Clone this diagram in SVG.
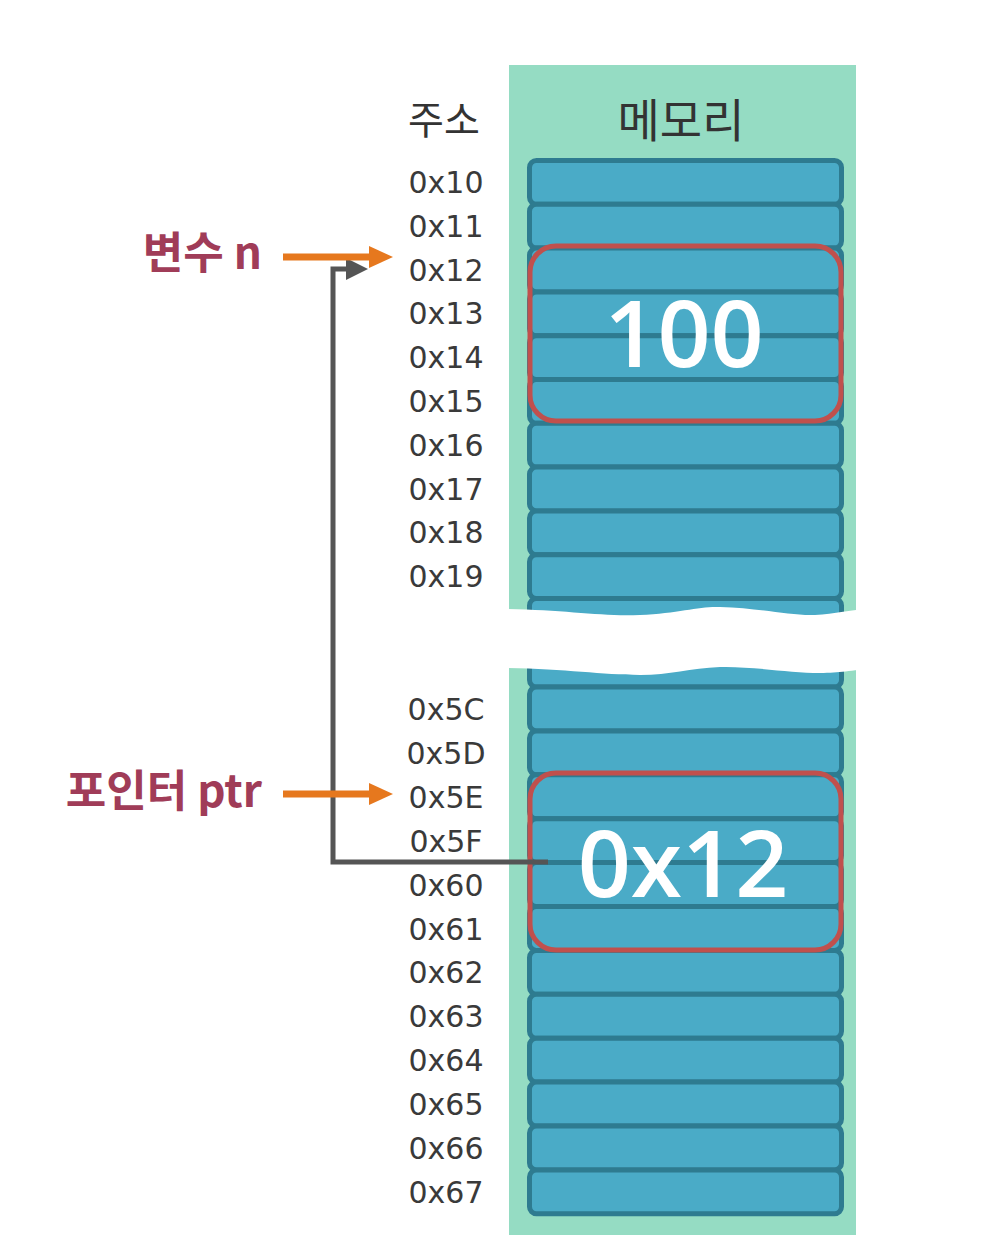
<svg xmlns="http://www.w3.org/2000/svg" width="986" height="1258" viewBox="0 0 986 1258">
<style>
.cell{fill:#4AABC7;stroke:#2E7B90;stroke-width:5}
.sel{fill:none;stroke:#C0504D;stroke-width:5}
.addr{font-family:"DejaVu Sans","Noto Sans",sans-serif;font-size:30px;fill:#3a3a3a;text-anchor:middle}
.head{font-family:"Noto Sans CJK KR","Noto Sans",sans-serif;fill:#333;text-anchor:middle}
.val{font-family:"Open Sans","Noto Sans",sans-serif;font-weight:600;font-size:93px;fill:#fff;text-anchor:middle}
.var{font-family:"Noto Sans CJK KR","Noto Sans",sans-serif;font-weight:bold;font-size:44px;fill:#A03C58;text-anchor:end}
.oarrow{stroke:#E6781E;stroke-width:7;fill:none;marker-end:url(#oh)}
.garrow{stroke:#555;stroke-width:5;fill:none;marker-end:url(#gh)}
</style>
<defs>
<marker id="oh" markerUnits="userSpaceOnUse" markerWidth="26" markerHeight="24" refX="6" refY="12" orient="auto"><path d="M0,1 L24,12 L0,23 Z" fill="#E6781E"/></marker>
<marker id="gh" markerUnits="userSpaceOnUse" markerWidth="24" markerHeight="24" refX="4" refY="12" orient="auto"><path d="M0,1 L22,12 L0,23 Z" fill="#555"/></marker>
</defs>
<rect width="986" height="1258" fill="#fff"/>
<g id="memory-panel">
<rect x="509" y="65" width="347" height="1170" fill="#95DCC3"/>
<text class="head" x="681" y="137" font-size="46">메모리</text>
</g>
<g id="address-header"><text class="head" x="444" y="134" font-size="39">주소</text></g>
<g id="cells-top">
<rect class="cell" x="529.5" y="160.5" width="312" height="43.8" rx="7"/>
<rect class="cell" x="529.5" y="204.3" width="312" height="43.8" rx="7"/>
<rect class="cell" x="529.5" y="248.1" width="312" height="43.8" rx="7"/>
<rect class="cell" x="529.5" y="291.9" width="312" height="43.8" rx="7"/>
<rect class="cell" x="529.5" y="335.7" width="312" height="43.8" rx="7"/>
<rect class="cell" x="529.5" y="379.5" width="312" height="43.8" rx="7"/>
<rect class="cell" x="529.5" y="423.3" width="312" height="43.8" rx="7"/>
<rect class="cell" x="529.5" y="467.1" width="312" height="43.8" rx="7"/>
<rect class="cell" x="529.5" y="510.9" width="312" height="43.8" rx="7"/>
<rect class="cell" x="529.5" y="554.7" width="312" height="43.8" rx="7"/>
<rect class="cell" x="529.5" y="598.5" width="312" height="43.8" rx="7"/>
</g>
<g id="cells-bottom">
<rect class="cell" x="529.5" y="643.1" width="312" height="43.9" rx="7"/>
<rect class="cell" x="529.5" y="687" width="312" height="43.9" rx="7"/>
<rect class="cell" x="529.5" y="730.9" width="312" height="43.9" rx="7"/>
<rect class="cell" x="529.5" y="774.8" width="312" height="43.9" rx="7"/>
<rect class="cell" x="529.5" y="818.7" width="312" height="43.9" rx="7"/>
<rect class="cell" x="529.5" y="862.6" width="312" height="43.9" rx="7"/>
<rect class="cell" x="529.5" y="906.5" width="312" height="43.9" rx="7"/>
<rect class="cell" x="529.5" y="950.4" width="312" height="43.9" rx="7"/>
<rect class="cell" x="529.5" y="994.3" width="312" height="43.9" rx="7"/>
<rect class="cell" x="529.5" y="1038.2" width="312" height="43.9" rx="7"/>
<rect class="cell" x="529.5" y="1082.1" width="312" height="43.9" rx="7"/>
<rect class="cell" x="529.5" y="1126" width="312" height="43.9" rx="7"/>
<rect class="cell" x="529.5" y="1169.9" width="312" height="43.9" rx="7"/>
</g>
<g id="break">
<path d="M495 609 C560 609 600 617 640 615 C680 613 700 606 720 607 C760 608 790 616 815 615 C835 614 850 609 875 609 L875 669 C850 670 840 673 820 673 C790 673 750 666 720 667 C690 668 670 675 640 675 C600 675 560 668 495 668 Z" fill="#fff"/>
</g>
<g id="addresses">
<text class="addr" x="446" y="193">0x10</text>
<text class="addr" x="446" y="237">0x11</text>
<text class="addr" x="446" y="281">0x12</text>
<text class="addr" x="446" y="324">0x13</text>
<text class="addr" x="446" y="368">0x14</text>
<text class="addr" x="446" y="412">0x15</text>
<text class="addr" x="446" y="456">0x16</text>
<text class="addr" x="446" y="500">0x17</text>
<text class="addr" x="446" y="543">0x18</text>
<text class="addr" x="446" y="587">0x19</text>
<text class="addr" x="446" y="720">0x5C</text>
<text class="addr" x="446" y="764">0x5D</text>
<text class="addr" x="446" y="808">0x5E</text>
<text class="addr" x="446" y="852">0x5F</text>
<text class="addr" x="446" y="896">0x60</text>
<text class="addr" x="446" y="940">0x61</text>
<text class="addr" x="446" y="983">0x62</text>
<text class="addr" x="446" y="1027">0x63</text>
<text class="addr" x="446" y="1071">0x64</text>
<text class="addr" x="446" y="1115">0x65</text>
<text class="addr" x="446" y="1159">0x66</text>
<text class="addr" x="446" y="1203">0x67</text>
</g>
<g id="var-n">
<rect class="sel" x="530" y="246" width="311" height="175" rx="26"/>
<text class="val" x="684" y="367">100</text>
<text class="var" x="262" y="269">변수 n</text>
</g>
<g id="ptr">
<rect class="sel" x="530" y="773" width="311" height="177" rx="26"/>
<text class="val" x="683" y="897">0x12</text>
<text class="var" x="262" y="807">포인터 ptr</text>
</g>
<g id="connectors">
<path class="garrow" d="M548 862 H333 V269 H350"/>
<path class="oarrow" d="M283 257 H375"/>
<path class="oarrow" d="M283 794 H375"/>
</g>
</svg>
